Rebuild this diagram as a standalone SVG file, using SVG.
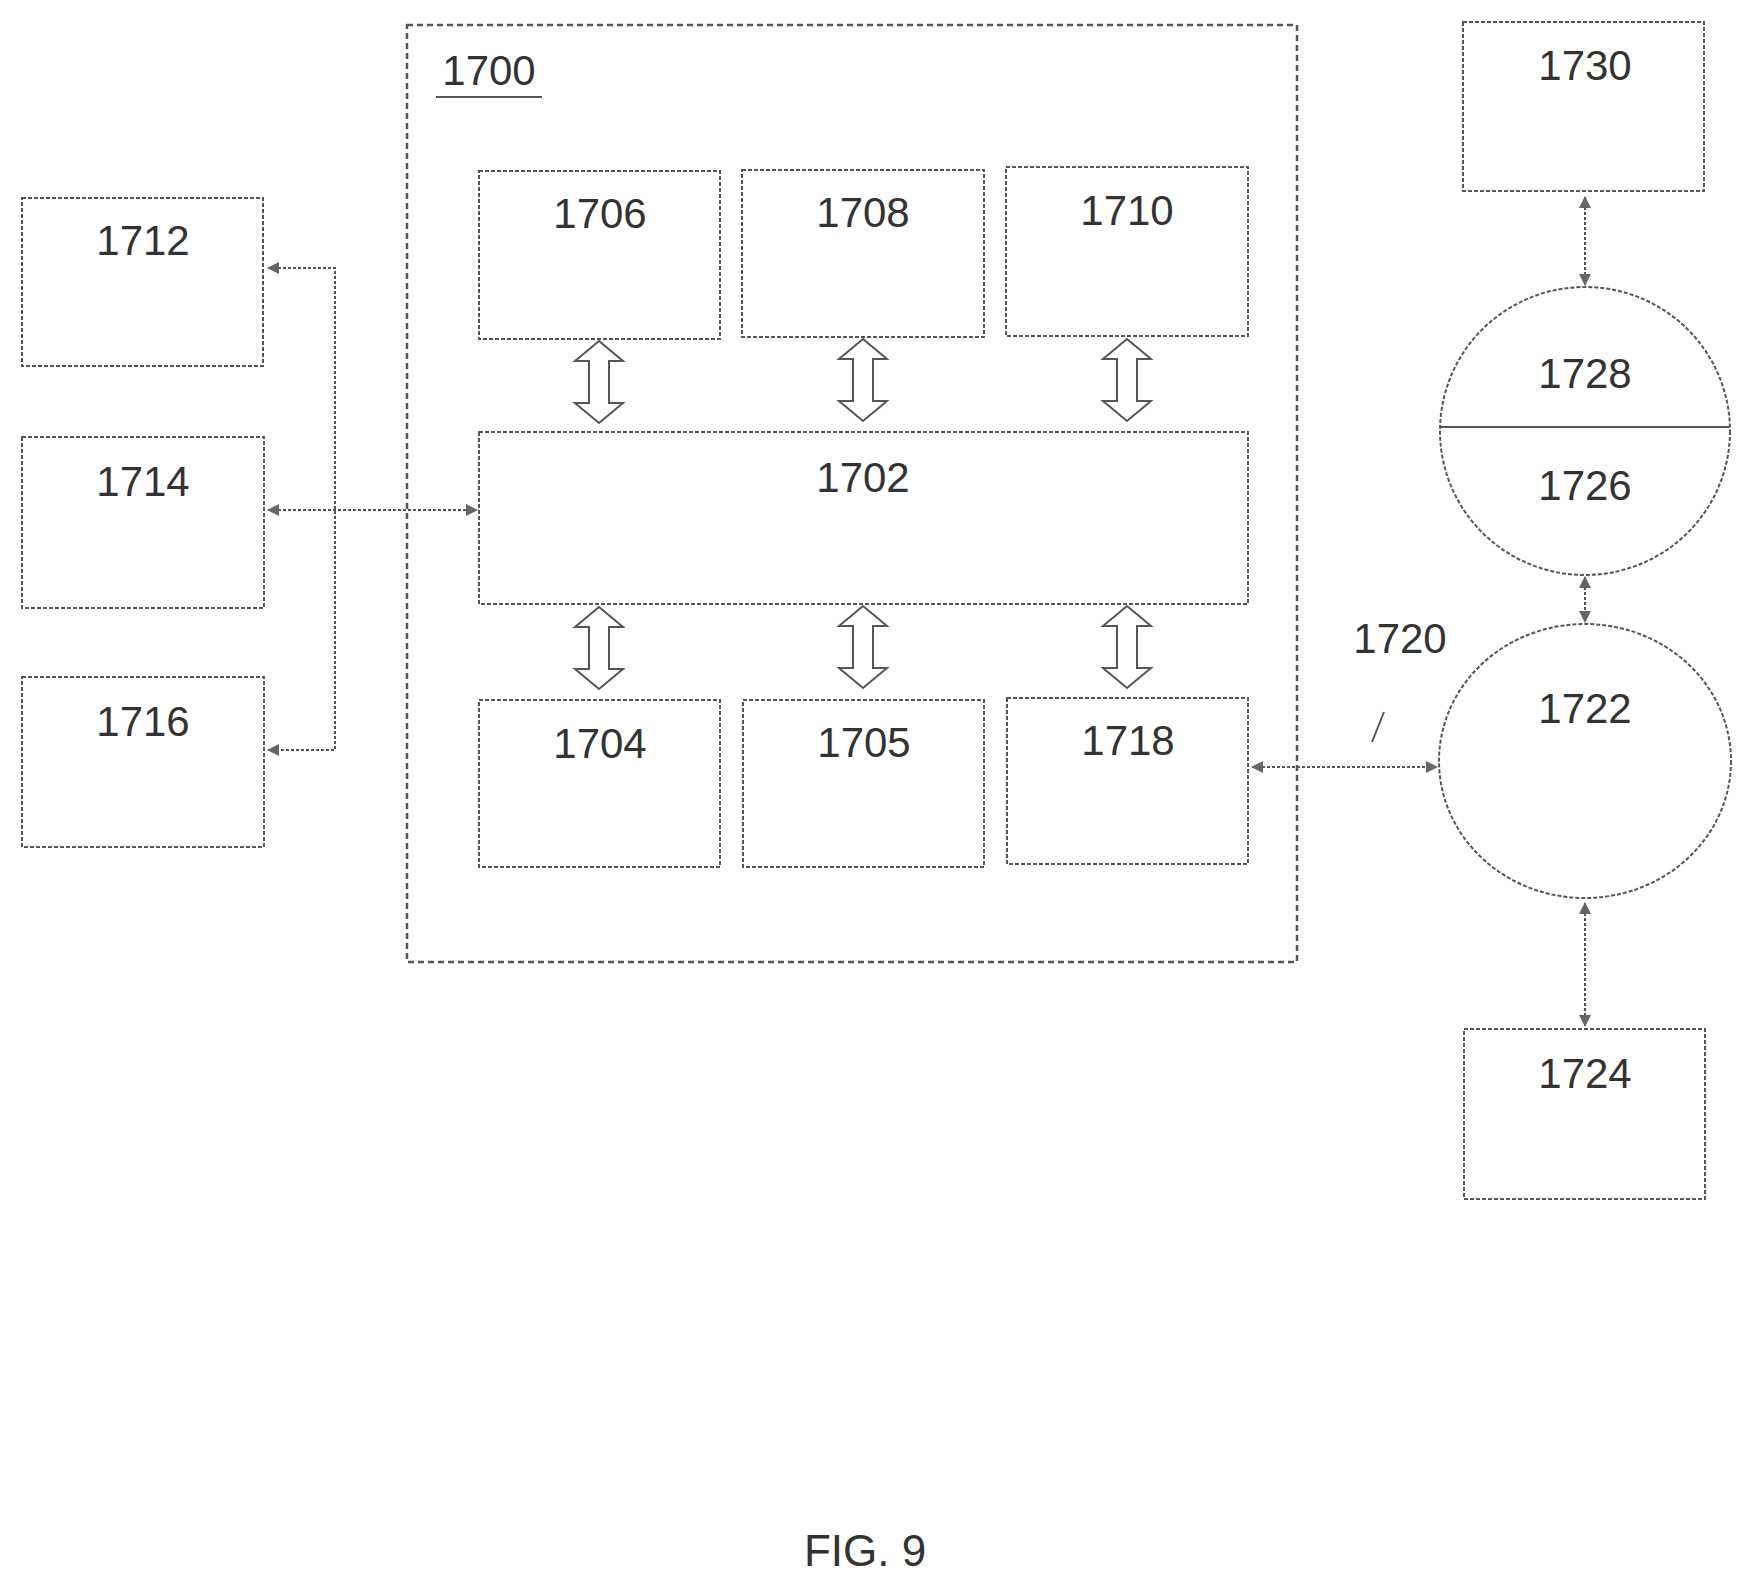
<svg xmlns="http://www.w3.org/2000/svg" width="1741" height="1584" viewBox="0 0 1741 1584">
<style>
.b{fill:none;stroke:#555;stroke-width:2;stroke-dasharray:4 2}
.o{fill:none;stroke:#555;stroke-width:2.5;stroke-dasharray:6 4}
.t{font-family:"Liberation Sans",Arial,sans-serif;font-size:42px;fill:#333;text-anchor:middle}
.c{fill:none;stroke:#555;stroke-width:2;stroke-dasharray:3 2}
.ba{fill:#fff;stroke:#555;stroke-width:2}
</style>
<defs>
<marker id="a" markerWidth="12" markerHeight="12" refX="11" refY="6" orient="auto-start-reverse" markerUnits="userSpaceOnUse">
<path d="M0,0 L12,6 L0,12 Z" fill="#666"/>
</marker>
<path id="bk" d="M0,0 L24,20 L10,20 L10,62 L24,62 L0,82 L-24,62 L-10,62 L-10,20 L-24,20 Z"/>
</defs>
<rect width="1741" height="1584" fill="#fff"/>
<g id="n1700"><rect class="o" x="407" y="25" width="890" height="937"/><text class="t" x="489" y="85">1700</text><line x1="436" y1="97" x2="542" y2="97" stroke="#555" stroke-width="2"/></g>
<g id="n1706"><rect class="b" x="479" y="171" width="241" height="168"/><text class="t" x="600" y="228">1706</text></g>
<g id="n1708"><rect class="b" x="742" y="170" width="242" height="167"/><text class="t" x="863" y="227">1708</text></g>
<g id="n1710"><rect class="b" x="1006" y="167" width="242" height="169"/><text class="t" x="1127" y="225">1710</text></g>
<g id="n1702"><rect class="b" x="479" y="432" width="769" height="172"/><text class="t" x="863" y="492">1702</text></g>
<g id="n1704"><rect class="b" x="479" y="700" width="241" height="167"/><text class="t" x="600" y="758">1704</text></g>
<g id="n1705"><rect class="b" x="743" y="700" width="241" height="167"/><text class="t" x="864" y="757">1705</text></g>
<g id="n1718"><rect class="b" x="1007" y="698" width="241" height="166"/><text class="t" x="1128" y="755">1718</text></g>
<g id="n1712"><rect class="b" x="22" y="198" width="241" height="168"/><text class="t" x="143" y="255">1712</text></g>
<g id="n1714"><rect class="b" x="22" y="437" width="242" height="171"/><text class="t" x="143" y="496">1714</text></g>
<g id="n1716"><rect class="b" x="22" y="677" width="242" height="170"/><text class="t" x="143" y="736">1716</text></g>
<g id="n1730"><rect class="b" x="1463" y="22" width="241" height="169"/><text class="t" x="1585" y="80">1730</text></g>
<g id="n1724"><rect class="b" x="1464" y="1029" width="241" height="170"/><text class="t" x="1585" y="1088">1724</text></g>
<g id="n1728"><ellipse class="b" cx="1585" cy="431" rx="145" ry="144"/><line x1="1441" y1="427" x2="1729" y2="427" stroke="#555" stroke-width="2"/><text class="t" x="1585" y="388">1728</text><text class="t" x="1585" y="500">1726</text></g>
<g id="n1722"><ellipse class="b" cx="1585" cy="761" rx="146" ry="137"/><text class="t" x="1585" y="723">1722</text></g>
<g id="connectors">
<use href="#bk" class="ba" x="599" y="341"/>
<use href="#bk" class="ba" x="863" y="339"/>
<use href="#bk" class="ba" x="1127" y="339"/>
<use href="#bk" class="ba" x="599" y="607"/>
<use href="#bk" class="ba" x="863" y="606"/>
<use href="#bk" class="ba" x="1127" y="606"/>
<polyline class="c" points="268,268 335,268 335,750 268,750" marker-start="url(#a)" marker-end="url(#a)"/>
<line class="c" x1="268" y1="510" x2="477" y2="510" marker-start="url(#a)" marker-end="url(#a)"/>
<line class="c" x1="1252" y1="767" x2="1437" y2="767" marker-start="url(#a)" marker-end="url(#a)"/>
<line class="c" x1="1585" y1="197" x2="1585" y2="285" marker-start="url(#a)" marker-end="url(#a)"/>
<line class="c" x1="1585" y1="577" x2="1585" y2="622" marker-start="url(#a)" marker-end="url(#a)"/>
<line class="c" x1="1585" y1="903" x2="1585" y2="1026" marker-start="url(#a)" marker-end="url(#a)"/>
<line x1="1384" y1="712" x2="1372" y2="742" stroke="#555" stroke-width="2"/>
</g>
<text class="t" x="1400" y="653">1720</text>
<text class="t" x="865" y="1566" style="font-size:44px">FIG. 9</text>
</svg>
